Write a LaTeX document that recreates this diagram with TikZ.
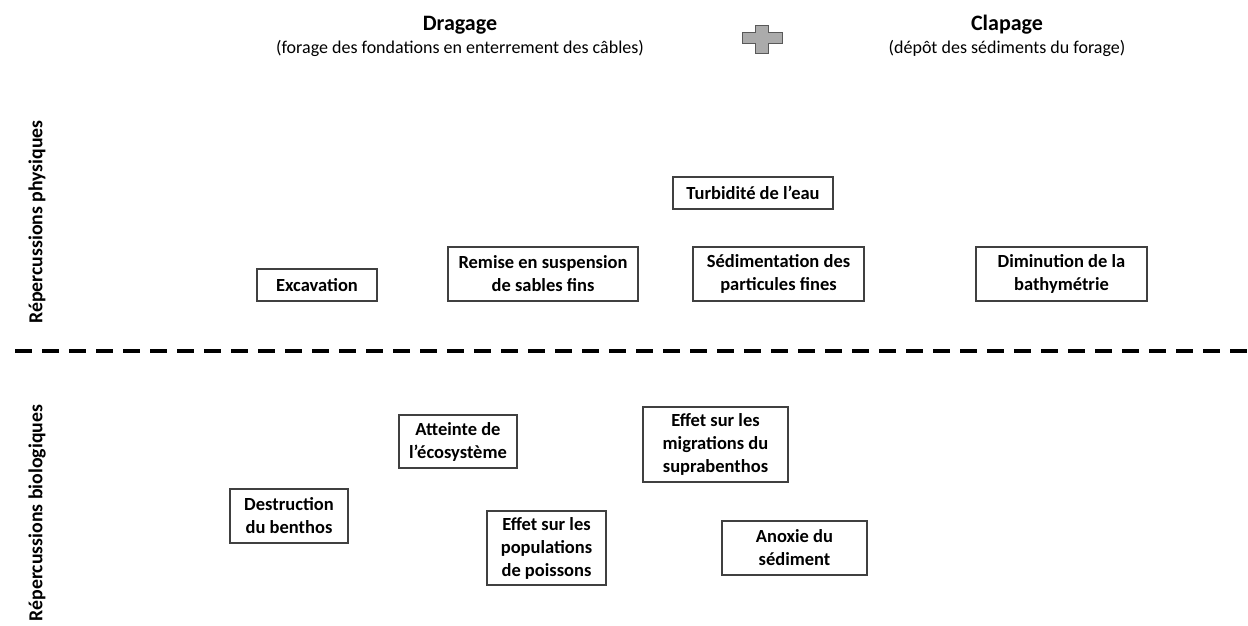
\documentclass[tikz,border=0pt]{standalone}
\usepackage{fontspec}
\setmainfont{Carlito}
\begin{document}
\begin{tikzpicture}[x=1pt,y=-1pt,
  box/.style={draw=black!75,line width=1.2pt,rectangle,inner sep=0pt,align=center,
    font=\bfseries\fontsize{18.5}{23}\selectfont,text=black},
  head/.style={font=\bfseries\fontsize{22}{26}\selectfont,inner sep=0pt},
  sub/.style={font=\fontsize{18}{22}\selectfont,inner sep=0pt},
  side/.style={font=\bfseries\fontsize{19.8}{24}\selectfont,rotate=90,inner sep=0pt}]
\useasboundingbox (0,0) rectangle (1248,625);
% headers
\node[head] (drag) at (460,25) {Dragage};
\node[sub] (dragsub) at (460,48) {(forage des fondations en enterrement des câbles)};
\node[head] (clap) at (1007,25) {Clapage};
\node[sub] (clapsub) at (1007,48) {(dépôt des sédiments du forage)};
% plus sign
\draw[fill=black!33,draw=black!65,line width=1pt]
  (755,25) -- (768,25) -- (768,32) -- (782,32) -- (782,43) -- (768,43) -- (768,53)
  -- (755,53) -- (755,43) -- (742,43) -- (742,32) -- (755,32) -- cycle;
% side labels
\node[side] (phys) at (37,222) {Répercussions physiques};
\node[side] (bio) at (37,513) {Répercussions biologiques};
% dashed separator
\coordinate (dl) at (15,351);
\coordinate (dr) at (1248,351);
\draw[line width=4pt,dash pattern=on 17pt off 10pt] (dl) -- (dr);
% physical boxes
\node[box,minimum width=120pt,minimum height=32pt] (exc) at (317,285) {Excavation};
\node[box,minimum width=190pt,minimum height=54pt] (rem) at (543,274) {Remise en suspension\\de sables fins};
\node[box,minimum width=160pt,minimum height=32pt] (tur) at (753,193) {Turbidité de l’eau};
\node[box,minimum width=171pt,minimum height=54pt] (sed) at (778.5,274) {Sédimentation des\\particules fines};
\node[box,minimum width=171pt,minimum height=54pt] (dim) at (1061.5,274) {Diminution de la\\bathymétrie};
% biological boxes
\node[box,minimum width=118pt,minimum height=53pt] (att) at (458,441.5) {Atteinte de\\l’écosystème};
\node[box,minimum width=118pt,minimum height=54pt] (des) at (289,516) {Destruction\\du benthos};
\node[box,minimum width=119pt,minimum height=74pt] (pop) at (546.5,548) {Effet sur les\\populations\\de poissons};
\node[box,minimum width=145pt,minimum height=75pt] (mig) at (715.5,444.5) {Effet sur les\\migrations du\\suprabenthos};
\node[box,minimum width=145pt,minimum height=54pt] (ano) at (794.5,548) {Anoxie du\\sédiment};
\end{tikzpicture}
\end{document}
